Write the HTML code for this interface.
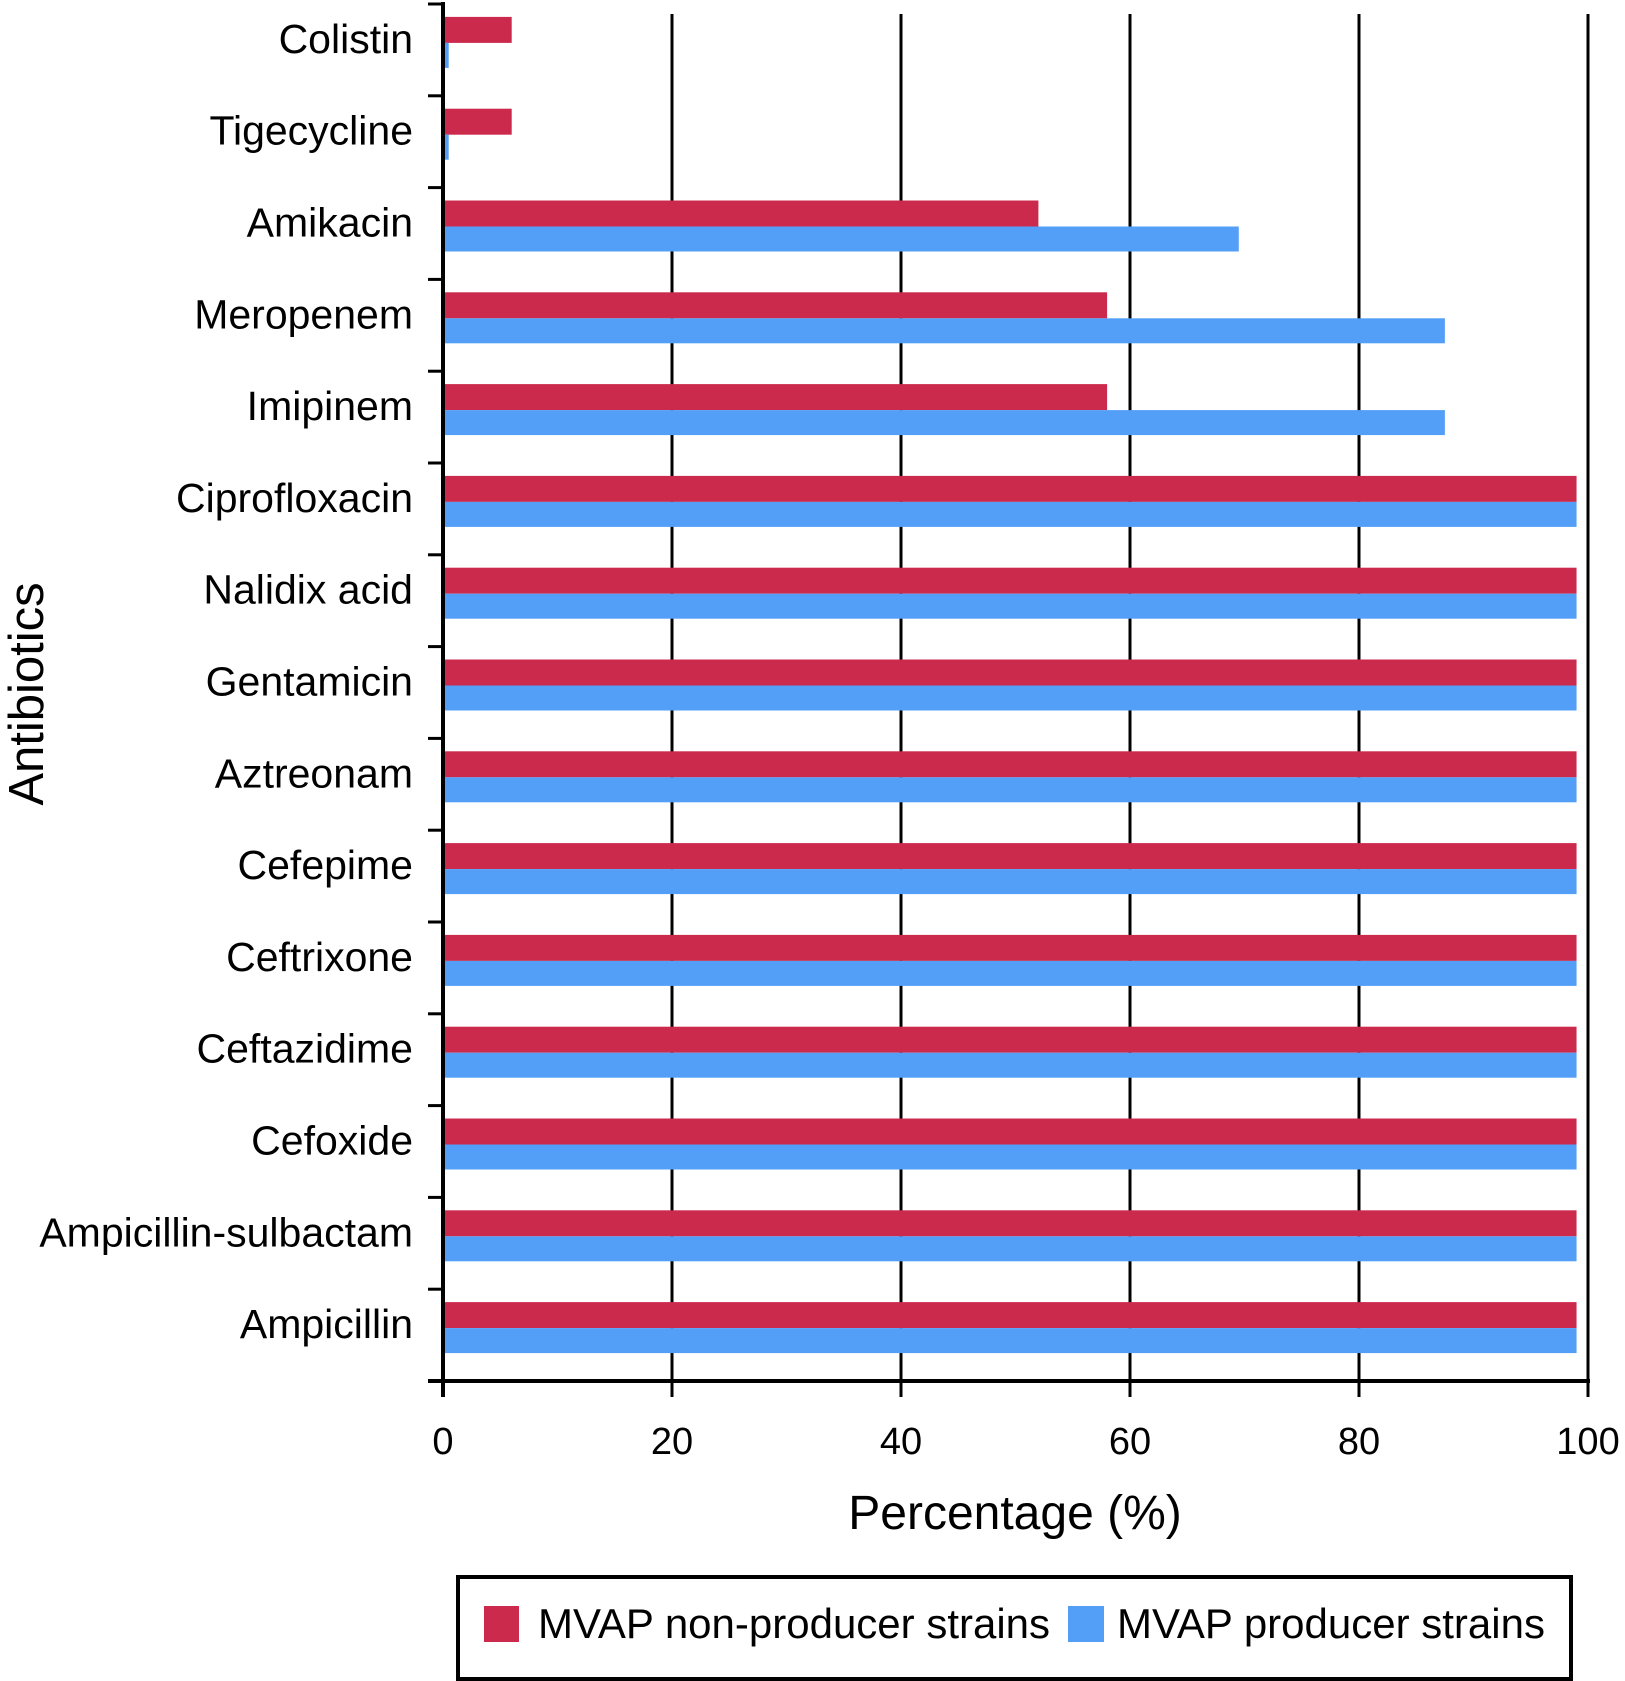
<!DOCTYPE html>
<html><head><meta charset="utf-8"><style>
html,body{margin:0;padding:0;background:#fff;}
svg{display:block;font-family:"Liberation Sans",Arial,sans-serif;}
</style></head><body>
<svg id="chart" width="1625" height="1681" viewBox="0 0 1625 1681" xmlns="http://www.w3.org/2000/svg">
<g id="grid"></g>
<g id="bars"></g>
<g id="axes"></g>
<text transform="translate(43,694) rotate(-90)" text-anchor="middle" font-size="49">Antibiotics</text>
<text x="1015" y="1529" text-anchor="middle" font-size="48">Percentage (%)</text>
<g>
<rect x="458" y="1577" width="1113" height="102" fill="#fff" stroke="#000" stroke-width="4"/>
<rect x="484" y="1606" width="35" height="36" fill="#cc2a4c"/>
<text x="538" y="1638" font-size="42">MVAP non-producer strains</text>
<rect x="1068" y="1606" width="36" height="36" fill="#539ff8"/>
<text x="1117" y="1638" font-size="42">MVAP producer strains</text>
</g>
</svg>
<script>
const categories=["Colistin","Tigecycline","Amikacin","Meropenem","Imipinem","Ciprofloxacin","Nalidix acid","Gentamicin","Aztreonam","Cefepime","Ceftrixone","Ceftazidime","Cefoxide","Ampicillin-sulbactam","Ampicillin"];
const nonProducer=[6,6,52,58,58,99,99,99,99,99,99,99,99,99,99];
const producer=[0.5,0.5,69.5,87.5,87.5,99,99,99,99,99,99,99,99,99,99];
const xTicks=[0,20,40,60,80,100];
const NS="http://www.w3.org/2000/svg";
const x0=443,x1=1588,yTop=4,yBot=1381;
const band=(yBot-yTop)/categories.length;
function xs(v){return x0+(x1-x0)*v/100;}
function yc(i){return yTop+band*(i+0.5);}
function mk(tag,attrs,parent){const e=document.createElementNS(NS,tag);for(const k in attrs)e.setAttribute(k,attrs[k]);parent.appendChild(e);return e;}
const grid=document.getElementById('grid'),bars=document.getElementById('bars'),axes=document.getElementById('axes');
xTicks.forEach(t=>{
  if(t>0){const g=mk('line',{x1:xs(t),x2:xs(t),y1:yTop+10,y2:yBot,stroke:'#000','stroke-width':3},grid);
  
  }
  const tk=mk('line',{x1:xs(t),x2:xs(t),y1:yBot,y2:yBot+16,stroke:'#000','stroke-width':3},axes);
  
  
  const tl=mk('text',{x:xs(t),y:1454,'text-anchor':'middle','font-size':38},axes);
  tl.textContent=t;
  
  
});
categories.forEach((c,i)=>{
  const c0=yc(i)-7;
  const r=mk('rect',{x:x0,y:c0-26,width:xs(nonProducer[i])-x0,height:26,fill:'#cc2a4c'},bars);
  
  
  const b=mk('rect',{x:x0,y:c0,width:xs(producer[i])-x0,height:25,fill:'#539ff8'},bars);
  
  
  const l=mk('text',{x:413,y:yc(i)+3,'text-anchor':'end','font-size':41},axes);
  l.textContent=c;
  
  
});
for(let i=0;i<=categories.length;i++){
  const t=mk('line',{x1:428,x2:x0,y1:yTop+band*i,y2:yTop+band*i,stroke:'#000','stroke-width':3},axes);
  
  
}
const ya=mk('line',{x1:x0,x2:x0,y1:yTop-2,y2:yBot+16,stroke:'#000','stroke-width':4},axes);


const xa=mk('line',{x1:428,x2:x1+2,y1:yBot,y2:yBot,stroke:'#000','stroke-width':4},axes);


</script>
</body></html>
